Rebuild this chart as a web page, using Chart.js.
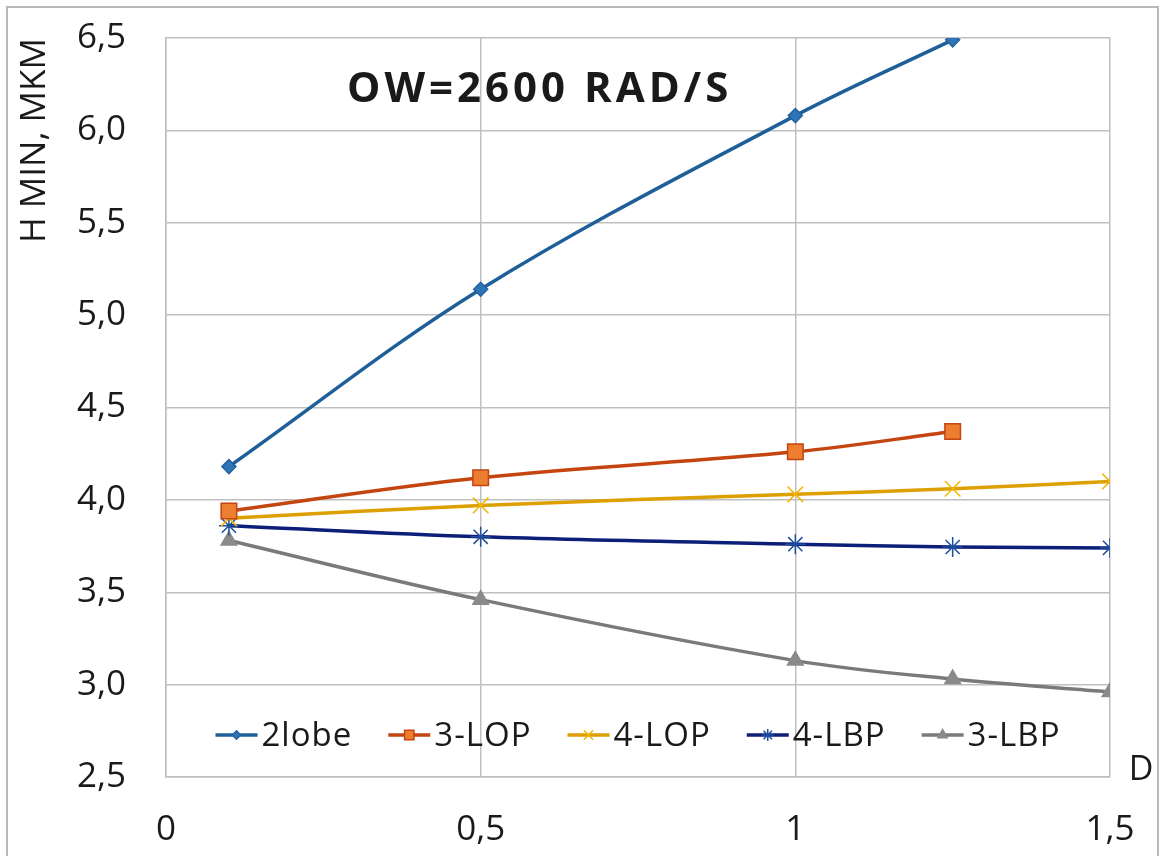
<!DOCTYPE html>
<html>
<head>
<meta charset="utf-8">
<script src="https://cdn.jsdelivr.net/npm/chart.js@4.4.1/dist/chart.umd.min.js"></script>
<style>
  body { margin: 0; background: #fff; }
  #wrap { width: 1162px; height: 856px; position: relative; overflow: hidden; }
</style>
</head>
<body>
<div id="wrap"><canvas id="myChart" width="1162" height="856"></canvas></div>
<script>
// values
const seriesNames = ['2lobe', '3-LOP', '4-LOP', '4-LBP', '3-LBP'];
const xLobe2 = [0.1, 0.5, 1, 1.25];
const yLobe2 = [4.18, 5.14, 6.08, 6.49];
const xLop3 = [0.1, 0.5, 1, 1.25];
const yLop3 = [3.94, 4.12, 4.26, 4.37];
const xLop4 = [0.1, 0.5, 1, 1.25, 1.5];
const yLop4 = [3.90, 3.97, 4.03, 4.06, 4.10];
const xLbp4 = [0.1, 0.5, 1, 1.25, 1.5];
const yLbp4 = [3.86, 3.80, 3.76, 3.745, 3.74];
const xLbp3 = [0.1, 0.5, 1, 1.25, 1.5];
const yLbp3 = [3.78, 3.46, 3.13, 3.03, 2.96];

const titleText = 'OW=2600 RAD/S';
const yTitle = 'H MIN, MKM';
const xTitle = 'D';

const FONT = "'Open Sans', sans-serif";

function toPoints(xs, ys) {
  return xs.map((x, i) => ({ x: x, y: ys[i] }));
}

function fmtComma(v) {
  return String(v).replace('.', ',');
}

function makeSet(label, xs, ys, line, fill, border, style, radius) {
  return {
    label: label,
    data: toPoints(xs, ys),
    borderColor: line,
    borderWidth: 3.5,
    pointStyle: style,
    pointRadius: radius,
    pointHoverRadius: radius,
    pointBackgroundColor: fill,
    pointBorderColor: border,
    pointBorderWidth: 1.5,
    tension: 0.35,
    fill: false
  };
}

const datasets = [
  makeSet(seriesNames[0], xLobe2, yLobe2, '#1F5F99', '#2E75B6', '#2563A3', 'rectRot', 7),
  makeSet(seriesNames[1], xLop3, yLop3, '#C4450F', '#ED7D31', '#C4450F', 'rect', 11),
  makeSet(seriesNames[2], xLop4, yLop4, '#DDA000', '#F2B600', '#F2B600', 'crossRot', 11),
  makeSet(seriesNames[3], xLbp4, yLbp4, '#0B1E78', '#1F4E9E', '#1F4E9E', 'star', 10),
  makeSet(seriesNames[4], xLbp3, yLbp3, '#7A7A7A', '#8A8A8A', '#8A8A8A', 'triangle', 9)
];

// frame, title inside the plot, legend inside the plot and the "D" label
const extras = {
  id: 'extras',
  afterDatasetsDraw(chart) {
    const ctx = chart.ctx;
    const area = chart.chartArea;
    ctx.save();

    // title
    ctx.fillStyle = '#1a1a1a';
    ctx.font = "bold 42px " + FONT;
    ctx.letterSpacing = '4px';
    ctx.textAlign = 'left';
    ctx.textBaseline = 'middle';
    ctx.fillText(titleText, 347, 90);
    ctx.letterSpacing = '0px';

    // legend
    ctx.font = "33px " + FONT;
    ctx.letterSpacing = '1px';
    const lineLen = 42, gapText = 4, gapItem = 36;
    const widths = chart.data.datasets.map(ds => ctx.measureText(ds.label).width);
    let total = 0;
    widths.forEach(w => { total += lineLen + gapText + w; });
    total += gapItem * (widths.length - 1);
    let x = (area.left + area.right) / 2 - total / 2;
    const ly = 735;
    chart.data.datasets.forEach((ds, i) => {
      ctx.strokeStyle = ds.borderColor;
      ctx.lineWidth = 3.5;
      ctx.beginPath();
      ctx.moveTo(x, ly);
      ctx.lineTo(x + lineLen, ly);
      ctx.stroke();
      ctx.fillStyle = ds.pointBackgroundColor;
      ctx.strokeStyle = ds.pointBorderColor;
      ctx.lineWidth = 1.5;
      Chart.helpers.drawPoint(ctx, {
        pointStyle: ds.pointStyle,
        radius: ds.pointRadius * 0.6,
        borderWidth: 1.5,
        rotation: 0
      }, x + lineLen / 2, ly);
      ctx.fillStyle = '#1a1a1a';
      ctx.textAlign = 'left';
      ctx.textBaseline = 'middle';
      ctx.fillText(ds.label, x + lineLen + gapText, ly + 2);
      x += lineLen + gapText + widths[i] + gapItem;
    });
    ctx.letterSpacing = '0px';

    // x axis name
    ctx.font = "34px " + FONT;
    ctx.textAlign = 'center';
    ctx.fillText(xTitle, 1141, 770);
    ctx.restore();
  },
  afterDraw(chart) {
    // outer frame of the picture
    const ctx = chart.ctx;
    ctx.save();
    ctx.strokeStyle = '#B8B8B8';
    ctx.lineWidth = 2;
    ctx.beginPath();
    ctx.moveTo(7, chart.height);
    ctx.lineTo(7, 7);
    ctx.lineTo(1158, 7);
    ctx.lineTo(1158, chart.height);
    ctx.stroke();
    ctx.restore();
  }
};

const ctx = document.getElementById('myChart').getContext('2d');
const myChart = new Chart(ctx, {
  type: 'line',
  data: { datasets: datasets },
  options: {
    responsive: false,
    animation: false,
    layout: { padding: { left: 8, right: 52, top: 38, bottom: 0 } },
    plugins: {
      legend: { display: false },
      title: { display: false },
      tooltip: { enabled: false }
    },
    scales: {
      x: {
        type: 'linear',
        min: 0,
        max: 1.5,
        afterFit: function (scale) { scale.height = 79; },
        ticks: {
          stepSize: 0.5,
          padding: 4,
          color: '#1a1a1a',
          font: { family: FONT, size: 35 },
          maxRotation: 0,
          callback: v => fmtComma(v)
        },
        // invisible tick marks push the labels away without adding side padding
        grid: { color: '#BFBFBF', lineWidth: 1.5, drawTicks: true, tickLength: 28, tickColor: 'rgba(0,0,0,0)' },
        border: { color: '#BFBFBF', width: 1.5 }
      },
      y: {
        min: 2.5,
        max: 6.5,
        afterFit: function (scale) { scale.width = 158; },
        ticks: {
          stepSize: 0.5,
          padding: 14,
          color: '#1a1a1a',
          font: { family: FONT, size: 35 },
          callback: v => fmtComma(v.toFixed(1))
        },
        title: {
          display: true,
          text: yTitle,
          align: 'end',
          color: '#1a1a1a',
          font: { family: FONT, size: 35 },
          padding: { top: 6, bottom: 0 }
        },
        grid: { color: '#BFBFBF', lineWidth: 1.5, drawTicks: true, tickLength: 26, tickColor: 'rgba(0,0,0,0)' },
        border: { color: '#BFBFBF', width: 1.5 }
      }
    }
  },
  plugins: [extras]
});
</script>
</body>
</html>
